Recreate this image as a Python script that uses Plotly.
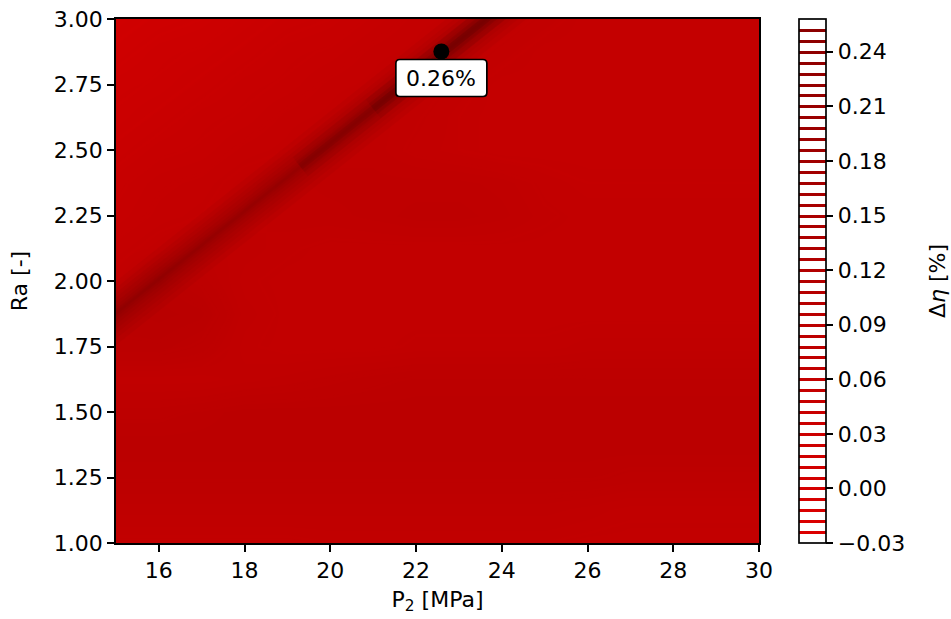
import plotly.graph_objects as go

# Grid of the efficiency-gain map: P2 in MPa (columns) and Ra (rows)
p2_values = [15, 16, 17, 18, 19, 20, 21, 22, 23, 24, 25, 26, 27, 28, 29, 30]
ra_values = [1.0, 1.125, 1.25, 1.375, 1.5, 1.625, 1.75, 1.875, 2.0,
             2.125, 2.25, 2.375, 2.5, 2.625, 2.75, 2.875, 3.0]

# Δη [%] background field, one row per Ra value
delta_eta = [
    [0.064, 0.064, 0.064, 0.064, 0.064, 0.066, 0.066, 0.066, 0.066, 0.066, 0.066, 0.064, 0.064, 0.064, 0.064, 0.064],
    [0.074, 0.074, 0.074, 0.074, 0.074, 0.074, 0.074, 0.074, 0.074, 0.074, 0.074, 0.071, 0.067, 0.067, 0.067, 0.067],
    [0.085, 0.085, 0.085, 0.085, 0.085, 0.085, 0.085, 0.085, 0.085, 0.085, 0.085, 0.085, 0.082, 0.082, 0.082, 0.082],
    [0.089, 0.089, 0.089, 0.089, 0.089, 0.089, 0.089, 0.089, 0.089, 0.089, 0.089, 0.089, 0.089, 0.089, 0.089, 0.089],
    [0.082, 0.082, 0.085, 0.089, 0.089, 0.089, 0.089, 0.089, 0.089, 0.089, 0.089, 0.089, 0.089, 0.089, 0.089, 0.089],
    [0.067, 0.067, 0.067, 0.071, 0.074, 0.078, 0.082, 0.085, 0.085, 0.085, 0.085, 0.085, 0.085, 0.085, 0.085, 0.085],
    [0.089, 0.089, 0.082, 0.067, 0.064, 0.064, 0.064, 0.067, 0.067, 0.067, 0.067, 0.071, 0.071, 0.071, 0.071, 0.071],
    [0.092, 0.096, 0.092, 0.071, 0.064, 0.064, 0.064, 0.064, 0.064, 0.064, 0.064, 0.064, 0.064, 0.064, 0.064, 0.064],
    [0.064, 0.092, 0.082, 0.067, 0.064, 0.064, 0.064, 0.064, 0.064, 0.064, 0.064, 0.064, 0.064, 0.064, 0.064, 0.064],
    [0.056, 0.064, 0.074, 0.071, 0.067, 0.064, 0.064, 0.064, 0.064, 0.064, 0.064, 0.064, 0.064, 0.064, 0.064, 0.064],
    [0.049, 0.056, 0.060, 0.067, 0.071, 0.071, 0.074, 0.078, 0.078, 0.074, 0.067, 0.064, 0.064, 0.064, 0.064, 0.064],
    [0.046, 0.053, 0.056, 0.064, 0.071, 0.074, 0.074, 0.074, 0.074, 0.071, 0.064, 0.060, 0.060, 0.060, 0.060, 0.060],
    [0.038, 0.046, 0.049, 0.056, 0.060, 0.071, 0.071, 0.064, 0.060, 0.056, 0.056, 0.056, 0.056, 0.056, 0.056, 0.056],
    [0.031, 0.038, 0.046, 0.049, 0.056, 0.060, 0.071, 0.067, 0.060, 0.056, 0.056, 0.056, 0.056, 0.056, 0.056, 0.056],
    [0.028, 0.031, 0.038, 0.046, 0.049, 0.056, 0.060, 0.071, 0.064, 0.056, 0.056, 0.056, 0.056, 0.056, 0.056, 0.056],
    [0.020, 0.028, 0.031, 0.038, 0.046, 0.049, 0.056, 0.060, 0.071, 0.064, 0.056, 0.056, 0.056, 0.056, 0.056, 0.056],
    [0.013, 0.020, 0.024, 0.031, 0.038, 0.042, 0.049, 0.056, 0.060, 0.071, 0.064, 0.056, 0.056, 0.056, 0.056, 0.056],
]

# Crest of maximum Δη running across the map (P2, Ra)
ridge_p2 = [14.0, 19.3, 21.0, 24.5]
ridge_ra = [1.747, 2.436, 2.657, 3.112]

# Location and value of the optimum
peak_p2 = [22.59]
peak_ra = [2.876]
peak_value = 0.26

# Contour levels and colourbar ticks
level_start, level_end, level_step = -0.024, 0.252, 0.006
cbar_ticks = [-0.03, 0.00, 0.03, 0.06, 0.09, 0.12, 0.15, 0.18, 0.21, 0.24]
z_lo, z_hi = -0.03, 0.258

reds = [[0.0, "#dc0000"], [1.0, "#8c0000"]]
FONT = "DejaVu Sans"

fig = go.Figure()

fig.add_trace(go.Heatmap(
    x=p2_values, y=ra_values, z=delta_eta,
    zmin=z_lo, zmax=z_hi, colorscale=reds,
    zsmooth="best", showscale=False, hoverinfo="skip",
))

fig.add_trace(go.Contour(
    x=p2_values, y=ra_values, z=delta_eta,
    zmin=z_lo, zmax=z_hi, colorscale=reds,
    autocontour=False,
    contours=dict(start=level_start, end=level_end, size=level_step,
                  coloring="lines"),
    line=dict(width=3, smoothing=0),
    hoverinfo="skip",
    colorbar=dict(
        x=(799 - 116) / 643, xanchor="left", xpad=0,
        y=0.5, yanchor="middle", ypad=0,
        len=1, lenmode="fraction",
        thickness=27, thicknessmode="pixels",
        outlinewidth=1.7, outlinecolor="black",
        tickmode="array", tickvals=cbar_ticks, tickformat=".2f",
        ticks="outside", ticklen=7, tickwidth=1.7, tickcolor="black",
        tickfont=dict(family=FONT, size=22, color="black"),
    ),
))

# Soft dark crest: stacked translucent strokes along the ridge path
base_widths = [50, 40, 32, 25, 18, 12, 7, 3]
for w in base_widths:
    fig.add_trace(go.Scatter(
        x=ridge_p2, y=ridge_ra, mode="lines",
        line=dict(color="rgba(0,0,0,0.028)", width=w),
        hoverinfo="skip", showlegend=False,
    ))
for start, alpha in [(1, 0.035), (2, 0.032)]:
    for w in [24, 14, 7]:
        fig.add_trace(go.Scatter(
            x=ridge_p2[start:], y=ridge_ra[start:], mode="lines",
            line=dict(color=f"rgba(0,0,0,{alpha})", width=w),
            hoverinfo="skip", showlegend=False,
        ))

fig.add_trace(go.Scatter(
    x=peak_p2, y=peak_ra, mode="markers",
    marker=dict(color="black", size=16),
    hoverinfo="skip", showlegend=False,
))

# Rounded label box hanging below the optimum marker (pixel offsets)
box_path = ("M -41.5,-8 L 41.5,-8 Q 45.5,-8 45.5,-12 L 45.5,-41 "
            "Q 45.5,-45 41.5,-45 L -41.5,-45 Q -45.5,-45 -45.5,-41 "
            "L -45.5,-12 Q -45.5,-8 -41.5,-8 Z")
fig.add_shape(
    type="path", path=box_path, xref="x", yref="y",
    xsizemode="pixel", ysizemode="pixel",
    xanchor=peak_p2[0], yanchor=peak_ra[0],
    fillcolor="white", line=dict(color="black", width=1.7), layer="above",
)
fig.add_annotation(
    x=peak_p2[0], y=peak_ra[0], text=f"{peak_value:.2f}%",
    showarrow=False, yshift=-27,
    font=dict(family=FONT, size=22, color="black"),
)

fig.add_annotation(
    x=(937 - 116) / 643, y=0.5, xref="paper", yref="paper",
    text="Δ<i>η</i> [%]", textangle=-90, showarrow=False,
    xanchor="center", yanchor="middle",
    font=dict(family=FONT, size=22, color="black"),
)

axis_common = dict(
    showline=True, linewidth=1.7, linecolor="black", mirror=True,
    ticks="outside", ticklen=7, tickwidth=1.7, tickcolor="black",
    showgrid=False, zeroline=False,
    tickfont=dict(family=FONT, size=22, color="black"),
)

fig.update_xaxes(
    range=[15, 30], tickmode="array", tickvals=[16, 18, 20, 22, 24, 26, 28, 30],
    title=dict(text="P<sub>2</sub> [MPa]", standoff=9,
               font=dict(family=FONT, size=22, color="black")),
    **axis_common,
)
fig.update_yaxes(
    range=[1, 3], tickmode="array",
    tickvals=[1.0, 1.25, 1.5, 1.75, 2.0, 2.25, 2.5, 2.75, 3.0], tickformat=".2f",
    title=dict(text="Ra [-]", standoff=20,
               font=dict(family=FONT, size=22, color="black")),
    **axis_common,
)

fig.update_layout(
    width=951, height=619,
    margin=dict(l=116, r=192, t=19, b=76, autoexpand=False),
    paper_bgcolor="white", plot_bgcolor="white",
    font=dict(family=FONT, size=22, color="black"),
    showlegend=False,
)

fig.write_html("out.html")
